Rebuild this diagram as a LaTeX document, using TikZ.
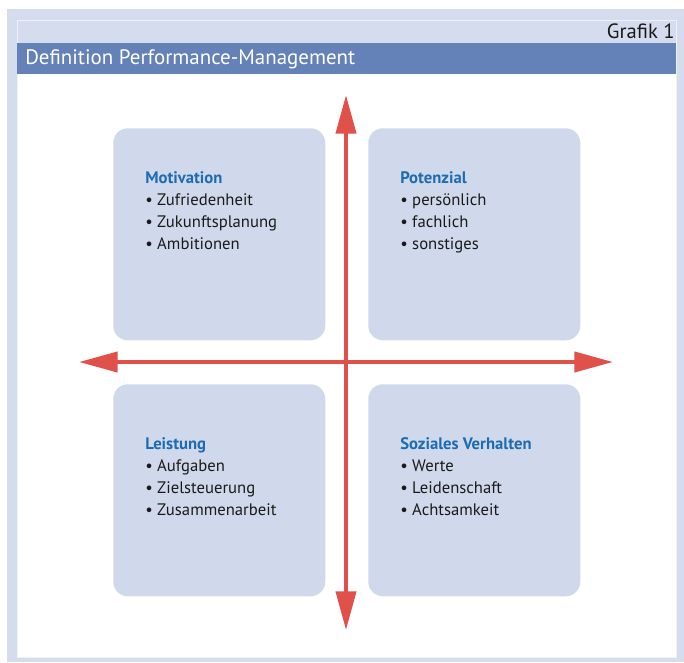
\documentclass[tikz,border=0pt]{standalone}
\usepackage{fontspec}
\setmainfont{PT Sans}
\usetikzlibrary{arrows.meta,positioning}

\definecolor{framebg}{HTML}{D5DCEE}
\definecolor{titlebar}{HTML}{6482B7}
\definecolor{boxfill}{HTML}{D0D9EB}
\definecolor{axisred}{HTML}{E0514A}
\definecolor{headblue}{HTML}{1D6BB0}
\definecolor{bodytext}{HTML}{1A1A1A}

\begin{document}
\begin{tikzpicture}[x=0.75pt,y=-0.75pt,
    quadrant/.style={rectangle, rounded corners=11pt, fill=boxfill, minimum width=159pt, minimum height=159pt, inner sep=0pt, anchor=north west},
    itemlist/.style={anchor=north west, align=left, inner sep=0pt, text=bodytext, font=\fontsize{12.5}{16.5}\selectfont},
    axis/.style={draw=axisred, line width=3pt, {Triangle[length=29pt,width=15pt]}-{Triangle[length=29pt,width=15pt]}}
]
    \useasboundingbox (0,0) rectangle (684,662);

    % Frame and title bar
    \fill[framebg] (7,9) rectangle (684,662);
    \fill[white] (17,74) rectangle (676,657);
    \draw[white!60!framebg, line width=0.5pt] (17,20) rectangle (676,657);
    \fill[titlebar] (17,43) rectangle (676,74);
    \node[anchor=east, inner sep=0pt, text=bodytext, font=\fontsize{15.5}{18}\selectfont] (grafik) at (675,31) {Grafik 1};
    \node[anchor=west, inner sep=0pt, text=white, font=\fontsize{15.7}{18}\selectfont] (title) at (25,59) {Definition Performance-Management};

    % Quadrants
    \node[quadrant] (motivation) at (113,128) {};
    \node[quadrant] (potenzial) at (368,128) {};
    \node[quadrant] (leistung) at (113,384) {};
    \node[quadrant] (sozial) at (368,384) {};

    % Axes
    \coordinate (top) at (346,95);
    \coordinate (bottom) at (346,630);
    \coordinate (left) at (79,362);
    \coordinate (right) at (613,362);
    \draw[axis] (bottom) -- (top);
    \draw[axis] (left) -- (right);

    % Texts
    \node[itemlist] (motivationText) at ([shift={(32,43)}]motivation.north west)
        {{\color{headblue}\bfseries Motivation}\\ \textbullet\ Zufriedenheit\\ \textbullet\ Zukunftsplanung\\ \textbullet\ Ambitionen};
    \node[itemlist] (potenzialText) at ([shift={(32,43)}]potenzial.north west)
        {{\color{headblue}\bfseries Potenzial}\\ \textbullet\ persönlich\\ \textbullet\ fachlich\\ \textbullet\ sonstiges};
    \node[itemlist] (leistungText) at ([shift={(32,53)}]leistung.north west)
        {{\color{headblue}\bfseries Leistung}\\ \textbullet\ Aufgaben\\ \textbullet\ Zielsteuerung\\ \textbullet\ Zusammenarbeit};
    \node[itemlist] (sozialText) at ([shift={(32,53)}]sozial.north west)
        {{\color{headblue}\bfseries Soziales Verhalten}\\ \textbullet\ Werte\\ \textbullet\ Leidenschaft\\ \textbullet\ Achtsamkeit};

\end{tikzpicture}
\end{document}
